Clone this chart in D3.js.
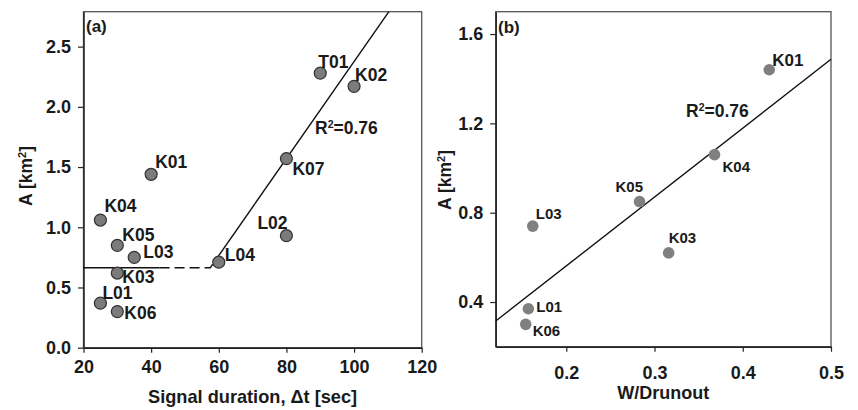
<!DOCTYPE html>
<html>
<head>
<meta charset="utf-8">
<script src="https://cdn.jsdelivr.net/npm/d3@7"></script>
<style>
  html, body { margin: 0; padding: 0; background: #fff; }
  svg { display: block; font-family: "Liberation Sans", Arial, sans-serif; font-weight: bold; }
</style>
</head>
<body>
<svg id="chart" width="858" height="410"></svg>
<script>
// ---------------- Data ----------------
// Panel (a): signal duration vs area
const labelsA   = ["T01","K02","K07","K01","K04","L02","K05","L03","L04","K03","L01","K06"];
const durationA = [90, 100, 80, 40, 25, 80, 30, 35, 60, 30, 25, 30];
const areaA     = [2.28, 2.17, 1.57, 1.44, 1.06, 0.93, 0.85, 0.75, 0.71, 0.62, 0.37, 0.30];
const xTicksA   = [20, 40, 60, 80, 100, 120];
const yTicksA   = [0.0, 0.5, 1.0, 1.5, 2.0, 2.5];
// piecewise fit in (a): flat level, then rising line
const flatSolidA  = [[20, 0.664], [42.5, 0.664]];
const flatDashedA = [[42.5, 0.664], [57.5, 0.664], [59.5, 0.745]];
const riseA       = [[59.5, 0.745], [110.3, 2.79]];

// Panel (b): W/Drunout vs area
const labelsB = ["K01","K04","K05","L03","K03","L01","K06"];
const ratioB  = [0.430, 0.368, 0.283, 0.162, 0.316, 0.157, 0.154];
const areaB   = [1.44, 1.06, 0.85, 0.74, 0.62, 0.37, 0.30];
const xTicksB = [0.2, 0.3, 0.4, 0.5];
const yTicksB = [0.4, 0.8, 1.2, 1.6];
const fitB    = [[0.12, 0.315], [0.5, 1.487]];

// ---------------- Layout / style ----------------
const svg = d3.select("#chart");
const textColor = "#1a1a1a";

const A = { left: 83.5, right: 421.7, top: 11.7, bottom: 347.7 };
const B = { left: 495.7, right: 831, top: 11.7, bottom: 346.7 };

const xA = d3.scaleLinear().domain([20, 120]).range([A.left, A.right]);
const yA = d3.scaleLinear().domain([0, 2.79]).range([A.bottom, A.top]);
const xB = d3.scaleLinear().domain([0.12, 0.5]).range([B.left, B.right]);
const yB = d3.scaleLinear().domain([0.2, 1.7]).range([B.bottom, B.top]);

// label offsets (pixels) relative to the point
const offA = {T01:[-2,-5],K02:[1,-5],K07:[6,16],K01:[4,-6],K04:[4,-8],L02:[-29,-7],
              K05:[5,-4],L03:[9,1],L04:[6,-1],K03:[5,10],L01:[2,-4],K06:[7,7]};
const offB = {K01:[3,-4],K04:[8,17],K05:[-24,-10],L03:[3,-7],K03:[0,-10],L01:[8,3],K06:[7,12]};

function frame(P) {
  svg.append("rect")
    .attr("x", P.left).attr("y", P.top)
    .attr("width", P.right - P.left).attr("height", P.bottom - P.top)
    .attr("fill", "none").attr("stroke", "#555").attr("stroke-width", 1.3);
}

function axes(P, x, y, xt, yt, fmtX, fmtY, xPad, fs) {
  const gx = svg.append("g").attr("transform", `translate(0,${P.bottom})`)
    .call(d3.axisBottom(x).tickValues(xt).tickFormat(fmtX).tickSize(5).tickSizeOuter(0).tickPadding(xPad));
  const gy = svg.append("g").attr("transform", `translate(${P.left},0)`)
    .call(d3.axisLeft(y).tickValues(yt).tickFormat(fmtY).tickSize(5.5).tickSizeOuter(0).tickPadding(7));
  [gx, gy].forEach(g => {
    g.select(".domain").attr("stroke", "#222").attr("stroke-width", 1.5);
    g.selectAll(".tick line").attr("stroke", "#222").attr("stroke-width", 1.2);
    g.selectAll(".tick text").attr("fill", textColor)
      .style("font-size", fs + "px").style("font-weight", "bold")
      .style("font-family", '"Liberation Sans", Arial, sans-serif');
  });
}

function yTitle(xpos, ypos) {
  const t = svg.append("text")
    .attr("transform", `translate(${xpos},${ypos}) rotate(-90)`)
    .attr("text-anchor", "middle").attr("fill", textColor)
    .style("font-size", "17.5px");
  t.append("tspan").text("A [km");
  t.append("tspan").text("2").attr("dy", -6).style("font-size", "11px");
  t.append("tspan").text("]").attr("dy", 6);
}

function r2(xpos, ypos) {
  const t = svg.append("text").attr("x", xpos).attr("y", ypos)
    .attr("fill", textColor).style("font-size", "17.5px");
  t.append("tspan").text("R");
  t.append("tspan").text("2").attr("dy", -6).style("font-size", "10.5px");
  t.append("tspan").text("=0.76").attr("dy", 6);
}

// ---------------- Panel (a) ----------------
frame(A);
axes(A, xA, yA, xTicksA, yTicksA, d3.format("d"), d3.format(".1f"), 8, 18);

const line = (sx, sy) => d3.line().x(d => sx(d[0])).y(d => sy(d[1]));
svg.append("path").attr("d", line(xA, yA)(flatSolidA))
  .attr("fill", "none").attr("stroke", "#111").attr("stroke-width", 1.4);
svg.append("path").attr("d", line(xA, yA)(flatDashedA))
  .attr("fill", "none").attr("stroke", "#111").attr("stroke-width", 1.4)
  .attr("stroke-dasharray", "10,5");
svg.append("path").attr("d", line(xA, yA)(riseA))
  .attr("fill", "none").attr("stroke", "#111").attr("stroke-width", 1.4);

const ptsA = labelsA.map((l, i) => ({ l, x: durationA[i], y: areaA[i] }));
svg.append("g").selectAll("circle").data(ptsA).join("circle")
  .attr("cx", d => xA(d.x)).attr("cy", d => yA(d.y)).attr("r", 6)
  .attr("fill", "#7b7b7b").attr("stroke", "#333").attr("stroke-width", 1.2);
svg.append("g").selectAll("text").data(ptsA).join("text")
  .attr("x", d => xA(d.x) + offA[d.l][0]).attr("y", d => yA(d.y) + offA[d.l][1])
  .attr("fill", textColor).style("font-size", "17.5px").text(d => d.l);

r2(315, 134);
svg.append("text").attr("x", 86).attr("y", 32).attr("fill", textColor)
  .style("font-size", "17px").text("(a)");
yTitle(32, 176);
svg.append("text").attr("x", (A.left + A.right) / 2).attr("y", 403)
  .attr("text-anchor", "middle").attr("fill", textColor).style("font-size", "18.2px")
  .text("Signal duration, \u0394t [sec]");

// ---------------- Panel (b) ----------------
frame(B);
axes(B, xB, yB, xTicksB, yTicksB, d3.format(".1f"), d3.format(".1f"), 15, 18);

svg.append("path").attr("d", line(xB, yB)(fitB))
  .attr("fill", "none").attr("stroke", "#111").attr("stroke-width", 1.4);

const ptsB = labelsB.map((l, i) => ({ l, x: ratioB[i], y: areaB[i] }));
svg.append("g").selectAll("circle").data(ptsB).join("circle")
  .attr("cx", d => xB(d.x)).attr("cy", d => yB(d.y)).attr("r", 5.8)
  .attr("fill", "#808080");
svg.append("g").selectAll("text").data(ptsB).join("text")
  .attr("x", d => xB(d.x) + offB[d.l][0]).attr("y", d => yB(d.y) + offB[d.l][1])
  .attr("fill", textColor).style("font-size", d => d.l === "K01" ? "17px" : "15px")
  .text(d => d.l);

r2(686, 117);
svg.append("text").attr("x", 498).attr("y", 33).attr("fill", textColor)
  .style("font-size", "17px").text("(b)");
yTitle(451, 180);
svg.append("text").attr("x", (B.left + B.right) / 2).attr("y", 399)
  .attr("text-anchor", "middle").attr("fill", textColor).style("font-size", "18px")
  .text("W/Drunout");
</script>
</body>
</html>
